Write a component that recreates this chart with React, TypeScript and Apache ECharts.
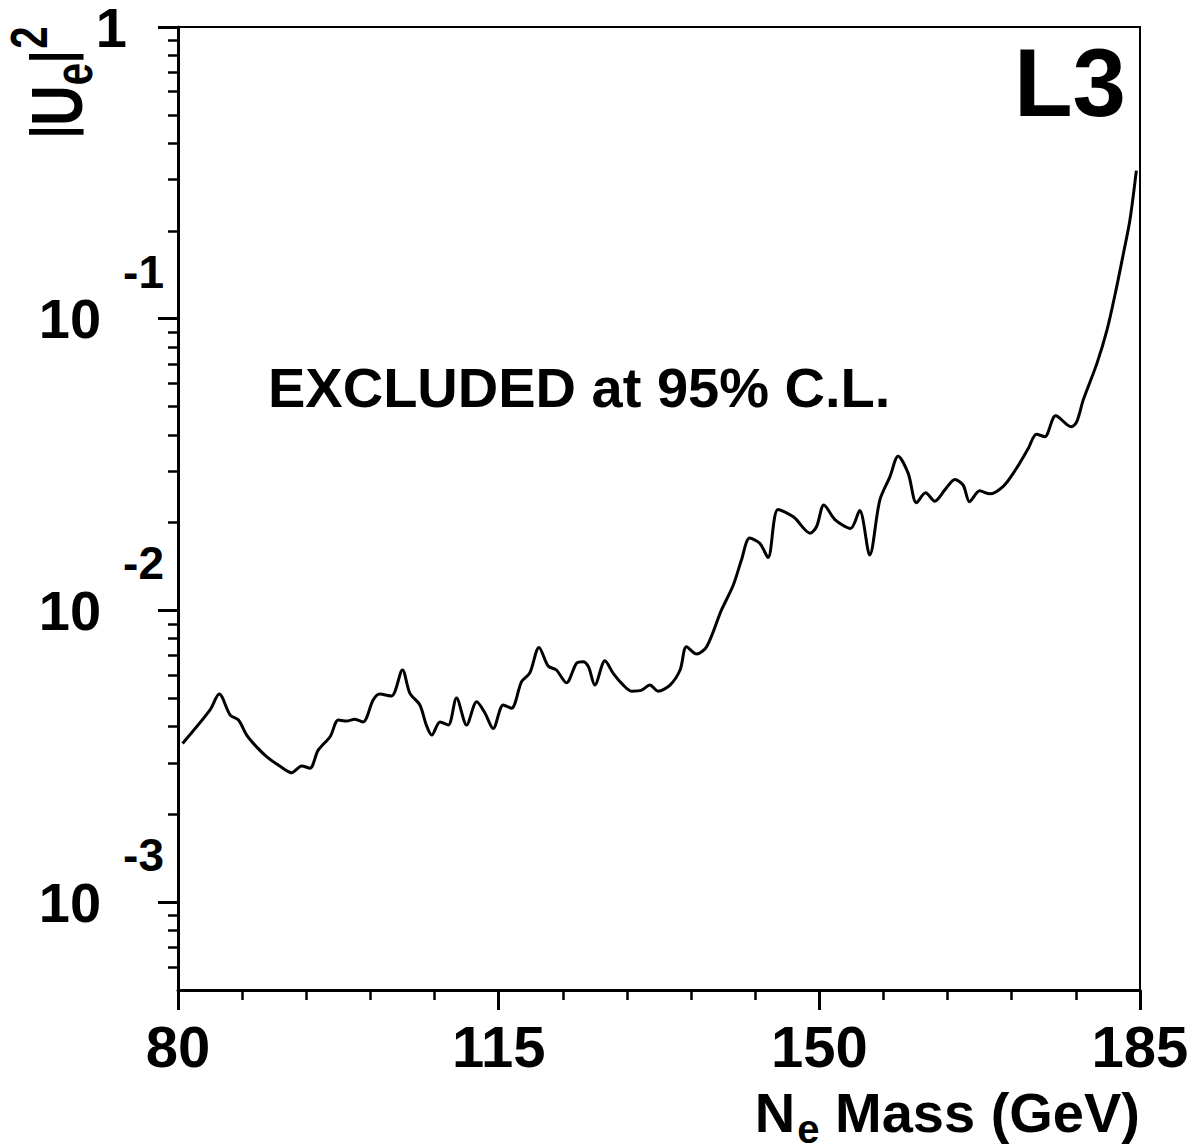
import React, { useEffect, useRef } from 'react';
import * as echarts from 'echarts';

const FONT = '"Liberation Sans", Arial, Helvetica, sans-serif';

// N_e mass (GeV)
const massGeV = [
  80.5, 83.5, 84.5, 85.7, 86.6, 87.5, 88.6, 89.7, 91.1, 92.4,
  93.5, 94.4, 95.3, 96.6, 97.5, 98.4, 99.3, 100.2, 101.3, 102.0,
  103.3, 104.5, 105.3, 106.4, 107.1, 107.7, 108.6, 109.5, 110.4, 111.5,
  112.6, 113.5, 114.4, 115.5, 116.4, 117.5, 118.4, 119.4, 120.4, 121.3,
  122.4, 123.5, 124.2, 124.8, 125.5, 126.6, 127.5, 128.6, 129.5, 130.6,
  131.5, 132.4, 133.7, 134.8, 135.5, 136.6, 137.7, 139.3, 140.6, 141.5,
  142.4, 143.5, 144.4, 145.5, 147.2, 149.0, 149.7, 150.5, 151.7, 153.4,
  154.4, 155.5, 156.6, 157.7, 158.6, 159.7, 160.6, 161.6, 162.6, 163.7,
  164.8, 165.7, 166.4, 167.5, 168.6, 170.1, 171.4, 172.8, 173.7, 174.6,
  175.8, 177.5, 178.1, 178.8, 180.3, 181.4, 182.3, 183.2, 183.9, 184.6,
];

// |U_e|^2 upper limit (95% C.L.)
const ueSquared = [
  3.50e-3, 4.56e-3, 5.17e-3, 4.38e-3, 4.21e-3, 3.74e-3, 3.40e-3, 3.15e-3, 2.93e-3, 2.78e-3,
  2.93e-3, 2.88e-3, 3.32e-3, 3.69e-3, 4.21e-3, 4.18e-3, 4.24e-3, 4.15e-3, 4.93e-3, 5.17e-3,
  5.09e-3, 6.25e-3, 5.21e-3, 4.74e-3, 4.05e-3, 3.74e-3, 4.15e-3, 4.05e-3, 5.01e-3, 4.05e-3,
  4.86e-3, 4.45e-3, 3.94e-3, 4.74e-3, 4.62e-3, 5.70e-3, 6.11e-3, 7.47e-3, 6.45e-3, 6.25e-3,
  5.65e-3, 6.59e-3, 6.67e-3, 6.41e-3, 5.55e-3, 6.72e-3, 6.09e-3, 5.55e-3, 5.29e-3, 5.33e-3,
  5.55e-3, 5.29e-3, 5.55e-3, 6.25e-3, 7.51e-3, 7.09e-3, 7.51e-3, 1.00e-2, 1.22e-2, 1.49e-2,
  1.77e-2, 1.70e-2, 1.52e-2, 2.22e-2, 2.09e-2, 1.84e-2, 1.94e-2, 2.30e-2, 2.05e-2, 1.91e-2,
  2.20e-2, 1.55e-2, 2.39e-2, 2.87e-2, 3.38e-2, 2.95e-2, 2.34e-2, 2.53e-2, 2.37e-2, 2.59e-2,
  2.81e-2, 2.69e-2, 2.36e-2, 2.57e-2, 2.51e-2, 2.67e-2, 3.03e-2, 3.59e-2, 4.02e-2, 3.94e-2,
  4.65e-2, 4.26e-2, 4.44e-2, 5.26e-2, 7.03e-2, 9.15e-2, 0.122, 0.168, 0.218, 0.322,
];

const xMajorTicks = [80, 115, 150, 185];
const xMinorTicks = [87, 94, 101, 108, 122, 129, 136, 143, 157, 164, 171, 178];
const yMajorTicks = [1e-3, 1e-2, 1e-1, 1];
const yTickBase = ['10', '10', '10', '1'];
const yTickExponent = ['-3', '-2', '-1', ''];
const yMinorTicks = [
  6e-4, 7e-4, 8e-4, 9e-4,
  2e-3, 3e-3, 4e-3, 5e-3, 6e-3, 7e-3, 8e-3, 9e-3,
  2e-2, 3e-2, 4e-2, 5e-2, 6e-2, 7e-2, 8e-2, 9e-2,
  0.2, 0.3, 0.4, 0.5, 0.6, 0.7, 0.8, 0.9,
];

export default function App() {
  const ref = useRef<HTMLDivElement>(null);

  useEffect(() => {
    document.body.style.margin = '0';
    if (!ref.current) return;
    const chart = echarts.init(ref.current, null, { renderer: 'svg', width: 1196, height: 1146 });

    const txt = { fontFamily: FONT, fontWeight: 'bold' as const, color: '#000' };
    const blackLine = { color: '#000', width: 3 };
    const gtxt = { fontWeight: 'bold', fontFamily: FONT, fill: '#000', verticalAlign: 'top' };

    const option: any = {
      animation: false,
      backgroundColor: '#fff',
      grid: {
        left: 178, top: 27, right: 56, bottom: 156,
        show: true, borderColor: '#000', borderWidth: 2,
        containLabel: false, outerBoundsMode: 'none',
      },
      xAxis: [
        {
          type: 'value', min: 80, max: 185, position: 'bottom',
          axisLine: { show: true, lineStyle: blackLine },
          axisTick: { show: true, inside: false, length: 20, lineStyle: blackLine, customValues: xMajorTicks },
          axisLabel: { ...txt, fontSize: 58, margin: 27, customValues: xMajorTicks },
          splitLine: { show: false },
        },
        {
          type: 'value', min: 80, max: 185, position: 'bottom',
          axisLine: { show: false },
          axisTick: { show: true, inside: false, length: 10, lineStyle: { color: '#000', width: 2.5 }, customValues: xMinorTicks },
          axisLabel: { show: false },
          splitLine: { show: false },
        },
      ],
      yAxis: [
        {
          type: 'log', logBase: 10, min: 5e-4, max: 1, position: 'left',
          axisLine: { show: true, lineStyle: blackLine },
          axisTick: { show: true, inside: false, length: 20, lineStyle: blackLine, customValues: yMajorTicks },
          axisLabel: {
            customValues: yMajorTicks,
            margin: 14,
            formatter: (val: number) => {
              const i = yMajorTicks.findIndex((v) => Math.abs(Math.log10(v) - Math.log10(val)) < 1e-6);
              if (i < 0) return '';
              if (!yTickExponent[i]) return `{one|${yTickBase[i]}}`;
              return `{b|${yTickBase[i]}}{s|${yTickExponent[i]}}`;
            },
            rich: {
              b: { ...txt, fontSize: 56, padding: [42, 0, 0, 0], verticalAlign: 'top' },
              s: { ...txt, fontSize: 46, padding: [0, 0, 94, 22], verticalAlign: 'top' },
              one: { ...txt, fontSize: 56, padding: [0, 37, 0, 0], verticalAlign: 'top' },
            },
          },
          splitLine: { show: false },
        },
        {
          type: 'log', logBase: 10, min: 5e-4, max: 1, position: 'left',
          axisLine: { show: false },
          axisTick: { show: true, inside: false, length: 10, lineStyle: { color: '#000', width: 2.5 }, customValues: yMinorTicks },
          axisLabel: { show: false },
          splitLine: { show: false },
        },
      ],
      series: [
        {
          type: 'line',
          xAxisIndex: 0,
          yAxisIndex: 0,
          data: massGeV.map((m, i) => [m, ueSquared[i]]),
          smooth: 0.3,
          showSymbol: false,
          silent: true,
          lineStyle: { color: '#000', width: 3 },
        },
      ],
      graphic: [
        {
          type: 'text', x: 1126, y: 82,
          style: { text: 'L3', fontSize: 96, fontWeight: 'bold', fontFamily: FONT, fill: '#000', align: 'right', verticalAlign: 'middle' },
        },
        {
          type: 'text', x: 268, y: 387,
          style: { text: 'EXCLUDED at 95% C.L.', fontSize: 56, fontWeight: 'bold', fontFamily: FONT, fill: '#000', align: 'left', verticalAlign: 'middle' },
        },
        {
          type: 'text', x: 1140, y: 1084,
          style: {
            text: '{n|N}{e|e}{m| Mass (GeV)}',
            align: 'right', verticalAlign: 'top', fill: '#000',
            rich: {
              n: { ...gtxt, fontSize: 56 },
              e: { ...gtxt, fontSize: 40, padding: [25, 0, 0, 2] },
              m: { ...gtxt, fontSize: 56 },
            },
          },
        },
        {
          type: 'text', x: 3, y: 138, rotation: Math.PI / 2, scaleY: 1.3,
          style: {
            text: '{bar||}{u|U}{e|e}{bar||}{s|2}',
            align: 'left', verticalAlign: 'top', fill: '#000',
            rich: {
              bar: { ...gtxt, fontSize: 44, padding: [15, 0, 0, 0] },
              u: { ...gtxt, fontSize: 56, padding: [13, 0, 0, 0] },
              e: { ...gtxt, fontSize: 40, padding: [35, 0, 0, 0] },
              s: { ...gtxt, fontSize: 40, padding: [0, 0, 0, 2] },
            },
          },
        },
      ],
    };

    chart.setOption(option);
    return () => chart.dispose();
  }, []);

  return (
    <div
      ref={ref}
      style={{ position: 'absolute', left: 0, top: 0, width: 1196, height: 1146, background: '#fff' }}
    />
  );
}
